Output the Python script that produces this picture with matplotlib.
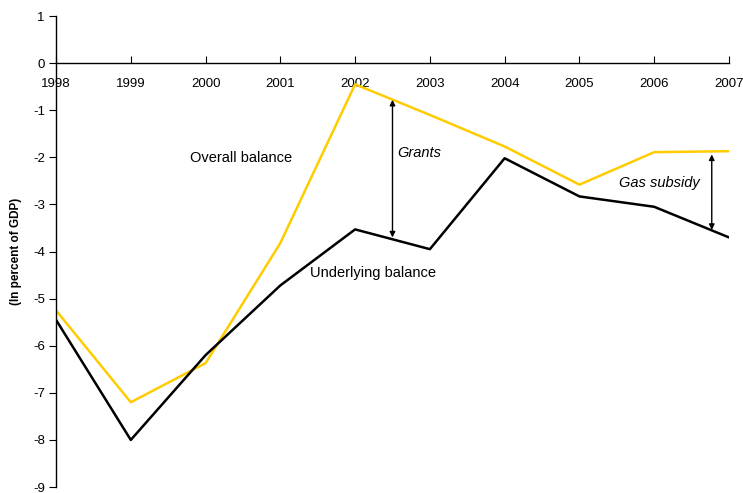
import matplotlib
matplotlib.use("Agg")
import matplotlib.pyplot as plt

plt.rcParams['font.family'] = ['Liberation Sans', 'DejaVu Sans']
plt.rcParams['axes.unicode_minus'] = False

years = [1998, 1999, 2000, 2001, 2002, 2003, 2004, 2005, 2006, 2007]
overall = [-5.25, -7.2, -6.37, -3.82, -0.45, -1.1, -1.77, -2.58, -1.89, -1.87]
underlying = [-5.45, -8.0, -6.2, -4.72, -3.53, -3.95, -2.02, -2.83, -3.05, -3.7]

fig = plt.figure(figsize=(7.43, 4.93), dpi=100)
ax = fig.add_axes([0.0754, 0.0121, 0.9057, 0.9554])

ax.plot(years, overall, color='#FFCC00', lw=1.8)
ax.plot(years, underlying, color='black', lw=1.8)

ax.set_xlim(1998, 2007)
ax.set_ylim(-9, 1)
ax.set_yticks(range(-9, 2))

for s in ['top', 'right']:
    ax.spines[s].set_visible(False)
ax.spines['bottom'].set_position(('data', 0))
ax.spines['left'].set_linewidth(1)
ax.spines['bottom'].set_linewidth(1)

ax.set_xticks(years)
ax.tick_params(axis='x', direction='in', length=5, pad=11, labelsize=9.5)
ax.tick_params(axis='y', direction='out', length=5, pad=3, labelsize=9.5)

ax.set_ylabel('(In percent of GDP)', fontweight='bold', fontsize=8.5, labelpad=8)

# arrows showing the gaps
ax.annotate('', xy=(2002.5, -0.72), xytext=(2002.5, -3.76),
            arrowprops=dict(arrowstyle='<|-|>', color='black', lw=1, mutation_scale=8))
ax.annotate('', xy=(2006.77, -1.88), xytext=(2006.77, -3.6),
            arrowprops=dict(arrowstyle='<|-|>', color='black', lw=1, mutation_scale=8))

ax.text(1999.79, -2.02, 'Overall balance', fontsize=10.5, va='center')
ax.text(2002.24, -4.46, 'Underlying balance', fontsize=10.5, va='center', ha='center')
ax.text(2002.57, -1.91, 'Grants', fontsize=10.5, va='center', style='italic')
ax.text(2005.53, -2.55, 'Gas subsidy', fontsize=10.5, va='center', style='italic')

fig.savefig('out.png', dpi=100)
